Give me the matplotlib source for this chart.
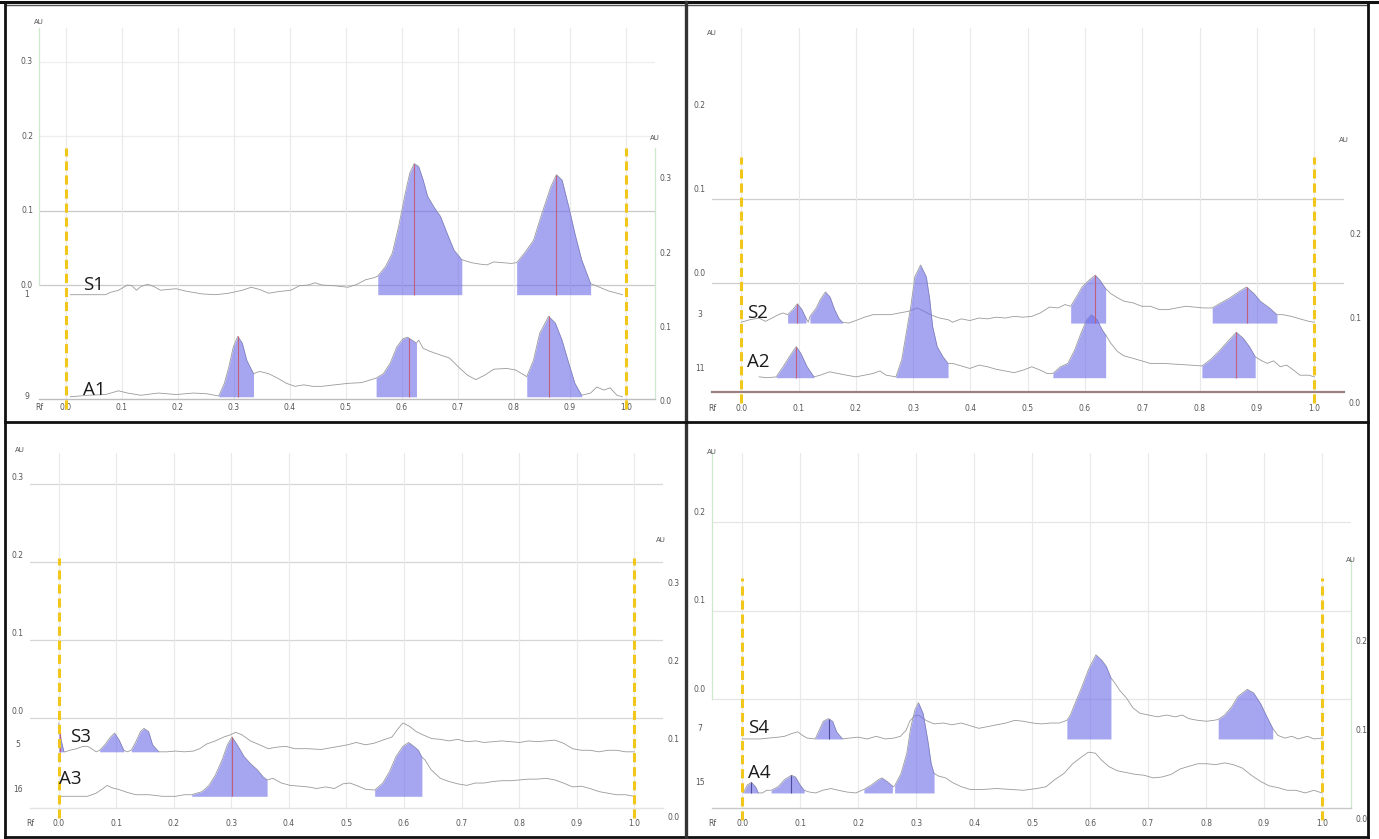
import numpy as np
import matplotlib
matplotlib.use("Agg")
import matplotlib.pyplot as plt
from matplotlib.lines import Line2D
from matplotlib.transforms import offset_copy

# Rf axis
rf_ticks = [0.0, 0.1, 0.2, 0.3, 0.4, 0.5, 0.6, 0.7, 0.8, 0.9, 1.0]
rf_labels = ["0.0", "0.1", "0.2", "0.3", "0.4", "0.5", "0.6", "0.7", "0.8", "0.9", "1.0"]

# ---- plate 1 -------------------------------------------------------------
s1_rf = [0.008, 0.071, 0.079, 0.094, 0.110, 0.118, 0.126, 0.134, 0.146, 0.157, 0.169, 0.181,
         0.197, 0.213, 0.228, 0.244, 0.268, 0.291, 0.315, 0.331, 0.346, 0.362, 0.378, 0.402,
         0.417, 0.433, 0.445, 0.457, 0.480, 0.504, 0.520, 0.535, 0.551, 0.557, 0.571, 0.583,
         0.594, 0.606, 0.614, 0.622, 0.630, 0.638, 0.646, 0.657, 0.669, 0.681, 0.693, 0.707,
         0.724, 0.740, 0.752, 0.764, 0.780, 0.795, 0.805, 0.819, 0.835, 0.850, 0.866, 0.876,
         0.886, 0.898, 0.909, 0.921, 0.937, 0.953, 0.969, 0.984, 0.994]
s1_au = [0.140, 0.140, 0.143, 0.146, 0.153, 0.152, 0.146, 0.151, 0.154, 0.151, 0.146, 0.147,
         0.148, 0.145, 0.143, 0.141, 0.140, 0.142, 0.146, 0.150, 0.147, 0.142, 0.144, 0.146,
         0.152, 0.153, 0.156, 0.153, 0.152, 0.150, 0.154, 0.160, 0.163, 0.165, 0.178, 0.196,
         0.231, 0.276, 0.303, 0.316, 0.312, 0.294, 0.272, 0.258, 0.245, 0.222, 0.200, 0.187,
         0.183, 0.181, 0.180, 0.184, 0.183, 0.182, 0.183, 0.196, 0.213, 0.249, 0.285, 0.301,
         0.294, 0.258, 0.222, 0.187, 0.155, 0.150, 0.145, 0.142, 0.140]
s1_base = 0.140
s1_peaks = [(0.557, 0.707), (0.805, 0.937)]
s1_marks = [0.622, 0.876]

a1_rf = [0.008, 0.024, 0.039, 0.071, 0.094, 0.110, 0.134, 0.165, 0.197, 0.228, 0.252, 0.273,
         0.283, 0.291, 0.299, 0.307, 0.315, 0.323, 0.335, 0.346, 0.362, 0.378, 0.394, 0.409,
         0.425, 0.441, 0.457, 0.480, 0.504, 0.528, 0.554, 0.567, 0.579, 0.591, 0.602, 0.610,
         0.618, 0.626, 0.630, 0.638, 0.650, 0.669, 0.685, 0.701, 0.717, 0.732, 0.748, 0.764,
         0.787, 0.803, 0.823, 0.835, 0.846, 0.862, 0.874, 0.886, 0.898, 0.909, 0.921, 0.937,
         0.948, 0.961, 0.972, 0.984, 0.994]
a1_au = [0.003, 0.004, 0.005, 0.006, 0.011, 0.008, 0.005, 0.008, 0.006, 0.008, 0.007, 0.004,
         0.021, 0.043, 0.070, 0.084, 0.075, 0.052, 0.034, 0.037, 0.034, 0.028, 0.021, 0.017,
         0.019, 0.017, 0.017, 0.019, 0.021, 0.022, 0.028, 0.034, 0.048, 0.070, 0.081, 0.083,
         0.079, 0.075, 0.079, 0.068, 0.064, 0.059, 0.055, 0.043, 0.032, 0.026, 0.032, 0.040,
         0.041, 0.039, 0.030, 0.052, 0.088, 0.111, 0.102, 0.079, 0.048, 0.021, 0.005, 0.008,
         0.016, 0.012, 0.015, 0.005, 0.003]
a1_base = 0.003
a1_peaks = [(0.273, 0.335), (0.554, 0.626), (0.823, 0.921)]
a1_marks = [0.307, 0.612, 0.862]

# ---- plate 2 -------------------------------------------------------------
s2_rf = [0.000, 0.015, 0.031, 0.042, 0.054, 0.065, 0.073, 0.081, 0.090, 0.098, 0.106, 0.113,
         0.117, 0.120, 0.131, 0.138, 0.147, 0.155, 0.163, 0.171, 0.177, 0.188, 0.200, 0.215,
         0.230, 0.246, 0.261, 0.276, 0.292, 0.300, 0.307, 0.319, 0.330, 0.346, 0.361, 0.369,
         0.384, 0.399, 0.415, 0.430, 0.445, 0.461, 0.476, 0.492, 0.507, 0.522, 0.538, 0.553,
         0.565, 0.575, 0.584, 0.595, 0.607, 0.618, 0.626, 0.636, 0.645, 0.657, 0.668, 0.684,
         0.699, 0.714, 0.730, 0.745, 0.760, 0.776, 0.791, 0.806, 0.822, 0.837, 0.853, 0.868,
         0.882, 0.895, 0.906, 0.922, 0.935, 0.945, 0.960, 0.975, 0.991, 1.000]
s2_au = [0.083, 0.086, 0.088, 0.084, 0.088, 0.092, 0.094, 0.092, 0.098, 0.105, 0.098, 0.088,
         0.083, 0.090, 0.100, 0.110, 0.119, 0.113, 0.098, 0.087, 0.083, 0.082, 0.085, 0.089,
         0.092, 0.092, 0.092, 0.094, 0.096, 0.098, 0.100, 0.096, 0.092, 0.088, 0.086, 0.083,
         0.087, 0.085, 0.088, 0.087, 0.089, 0.088, 0.090, 0.089, 0.090, 0.094, 0.101, 0.100,
         0.104, 0.102, 0.112, 0.125, 0.133, 0.139, 0.133, 0.123, 0.117, 0.112, 0.108, 0.106,
         0.102, 0.102, 0.098, 0.098, 0.100, 0.102, 0.101, 0.100, 0.100, 0.106, 0.112, 0.119,
         0.125, 0.117, 0.108, 0.100, 0.092, 0.092, 0.090, 0.087, 0.084, 0.083]
s2_base = 0.082
s2_peaks = [(0.081, 0.113), (0.120, 0.177), (0.575, 0.636), (0.822, 0.935)]
s2_marks = [0.098, 0.618, 0.882]

a2_rf = [0.031, 0.046, 0.061, 0.073, 0.084, 0.096, 0.104, 0.115, 0.127, 0.138, 0.154, 0.169,
         0.184, 0.200, 0.215, 0.230, 0.242, 0.253, 0.270, 0.280, 0.288, 0.296, 0.303, 0.313,
         0.323, 0.329, 0.334, 0.342, 0.352, 0.361, 0.369, 0.384, 0.399, 0.415, 0.430, 0.445,
         0.461, 0.476, 0.492, 0.507, 0.522, 0.534, 0.544, 0.557, 0.570, 0.582, 0.593, 0.603,
         0.611, 0.621, 0.630, 0.636, 0.645, 0.657, 0.668, 0.684, 0.699, 0.714, 0.737, 0.760,
         0.783, 0.804, 0.818, 0.833, 0.849, 0.864, 0.876, 0.887, 0.897, 0.906, 0.918, 0.929,
         0.941, 0.952, 0.964, 0.975, 0.991, 1.000]
a2_au = [0.018, 0.017, 0.018, 0.030, 0.042, 0.054, 0.046, 0.030, 0.018, 0.020, 0.024, 0.022,
         0.020, 0.018, 0.020, 0.022, 0.025, 0.020, 0.018, 0.038, 0.070, 0.102, 0.137, 0.151,
         0.137, 0.110, 0.078, 0.054, 0.042, 0.034, 0.034, 0.031, 0.028, 0.032, 0.030, 0.027,
         0.025, 0.023, 0.026, 0.030, 0.026, 0.022, 0.022, 0.030, 0.034, 0.050, 0.070, 0.086,
         0.092, 0.086, 0.074, 0.068, 0.058, 0.048, 0.043, 0.040, 0.037, 0.034, 0.034, 0.033,
         0.032, 0.031, 0.038, 0.048, 0.060, 0.071, 0.064, 0.054, 0.042, 0.038, 0.034, 0.037,
         0.030, 0.032, 0.026, 0.020, 0.020, 0.018]
a2_base = 0.017
a2_peaks = [(0.061, 0.127), (0.270, 0.361), (0.544, 0.636), (0.804, 0.897)]
a2_marks = [0.096, 0.864]

# ---- plate 3 -------------------------------------------------------------
s3_rf = [0.000, 0.004, 0.009, 0.011, 0.019, 0.031, 0.042, 0.050, 0.057, 0.065, 0.071, 0.080,
         0.090, 0.097, 0.105, 0.113, 0.119, 0.126, 0.134, 0.142, 0.148, 0.156, 0.163, 0.174,
         0.188, 0.203, 0.218, 0.234, 0.245, 0.257, 0.272, 0.287, 0.299, 0.307, 0.318, 0.333,
         0.349, 0.364, 0.379, 0.395, 0.410, 0.433, 0.456, 0.479, 0.502, 0.517, 0.533, 0.548,
         0.563, 0.579, 0.590, 0.598, 0.609, 0.621, 0.632, 0.648, 0.663, 0.678, 0.693, 0.709,
         0.724, 0.739, 0.755, 0.770, 0.785, 0.801, 0.816, 0.831, 0.847, 0.862, 0.877, 0.893,
         0.908, 0.923, 0.939, 0.954, 0.969, 0.985, 1.000]
s3_au = [0.109, 0.087, 0.072, 0.072, 0.074, 0.076, 0.079, 0.079, 0.076, 0.072, 0.074, 0.081,
         0.091, 0.096, 0.087, 0.074, 0.072, 0.074, 0.085, 0.098, 0.102, 0.098, 0.081, 0.072,
         0.072, 0.073, 0.072, 0.073, 0.076, 0.082, 0.086, 0.091, 0.094, 0.097, 0.094, 0.086,
         0.081, 0.076, 0.078, 0.079, 0.076, 0.076, 0.075, 0.078, 0.081, 0.084, 0.081, 0.083,
         0.087, 0.091, 0.102, 0.109, 0.105, 0.098, 0.094, 0.089, 0.088, 0.086, 0.088, 0.085,
         0.086, 0.084, 0.085, 0.086, 0.085, 0.084, 0.086, 0.085, 0.086, 0.087, 0.083, 0.076,
         0.074, 0.074, 0.072, 0.074, 0.074, 0.072, 0.072]
s3_base = 0.072
s3_peaks = [(0.000, 0.009), (0.071, 0.113), (0.126, 0.174)]
s3_marks = [0.002]

a3_rf = [0.000, 0.019, 0.034, 0.050, 0.065, 0.077, 0.084, 0.092, 0.103, 0.119, 0.134, 0.157,
         0.180, 0.203, 0.218, 0.231, 0.249, 0.261, 0.272, 0.284, 0.293, 0.301, 0.310, 0.322,
         0.333, 0.345, 0.355, 0.362, 0.372, 0.387, 0.402, 0.418, 0.433, 0.448, 0.464, 0.479,
         0.494, 0.506, 0.517, 0.533, 0.549, 0.563, 0.575, 0.586, 0.598, 0.608, 0.617, 0.625,
         0.631, 0.636, 0.647, 0.663, 0.678, 0.693, 0.709, 0.724, 0.739, 0.755, 0.770, 0.785,
         0.801, 0.816, 0.831, 0.847, 0.862, 0.877, 0.893, 0.908, 0.923, 0.939, 0.954, 0.969,
         0.985, 1.000]
a3_au = [0.015, 0.015, 0.015, 0.015, 0.019, 0.025, 0.029, 0.026, 0.024, 0.020, 0.017, 0.017,
         0.015, 0.015, 0.017, 0.017, 0.021, 0.029, 0.042, 0.062, 0.081, 0.091, 0.081, 0.066,
         0.057, 0.049, 0.040, 0.036, 0.038, 0.032, 0.029, 0.028, 0.027, 0.025, 0.027, 0.025,
         0.031, 0.032, 0.029, 0.024, 0.023, 0.032, 0.047, 0.066, 0.079, 0.084, 0.079, 0.074,
         0.065, 0.062, 0.049, 0.038, 0.034, 0.031, 0.029, 0.032, 0.032, 0.034, 0.035, 0.035,
         0.036, 0.037, 0.037, 0.038, 0.036, 0.032, 0.027, 0.028, 0.025, 0.021, 0.019, 0.017,
         0.017, 0.015]
a3_base = 0.015
a3_peaks = [(0.231, 0.362), (0.549, 0.631)]
a3_marks = [0.301]

# ---- plate 4 -------------------------------------------------------------
s4_rf = [0.000, 0.015, 0.031, 0.046, 0.062, 0.073, 0.085, 0.096, 0.104, 0.112, 0.126, 0.133,
         0.140, 0.149, 0.156, 0.163, 0.173, 0.185, 0.200, 0.216, 0.231, 0.247, 0.262, 0.273,
         0.283, 0.289, 0.297, 0.304, 0.312, 0.320, 0.331, 0.347, 0.362, 0.378, 0.393, 0.408,
         0.424, 0.439, 0.455, 0.470, 0.485, 0.501, 0.516, 0.532, 0.547, 0.560, 0.566, 0.574,
         0.586, 0.597, 0.610, 0.620, 0.628, 0.636, 0.643, 0.651, 0.663, 0.674, 0.686, 0.701,
         0.716, 0.732, 0.747, 0.759, 0.770, 0.786, 0.801, 0.813, 0.821, 0.832, 0.844, 0.855,
         0.871, 0.882, 0.894, 0.905, 0.915, 0.924, 0.936, 0.948, 0.959, 0.975, 0.986, 1.000]
s4_au = [0.078, 0.078, 0.078, 0.079, 0.080, 0.081, 0.084, 0.086, 0.082, 0.079, 0.078, 0.088,
         0.098, 0.101, 0.098, 0.086, 0.078, 0.079, 0.080, 0.078, 0.081, 0.078, 0.079, 0.081,
         0.088, 0.098, 0.104, 0.105, 0.101, 0.098, 0.095, 0.096, 0.094, 0.096, 0.093, 0.090,
         0.092, 0.094, 0.096, 0.099, 0.098, 0.096, 0.095, 0.096, 0.096, 0.099, 0.105, 0.118,
         0.137, 0.156, 0.173, 0.167, 0.160, 0.147, 0.141, 0.133, 0.124, 0.113, 0.107, 0.105,
         0.103, 0.105, 0.103, 0.105, 0.101, 0.099, 0.098, 0.099, 0.100, 0.105, 0.114, 0.126,
         0.134, 0.130, 0.118, 0.103, 0.090, 0.082, 0.079, 0.081, 0.078, 0.081, 0.078, 0.079]
s4_base = 0.078
s4_peaks = [(0.126, 0.173), (0.560, 0.636), (0.821, 0.915)]
s4_marks = [0.149]

a4_rf = [0.002, 0.009, 0.016, 0.023, 0.028, 0.035, 0.042, 0.050, 0.062, 0.073, 0.085, 0.092,
         0.100, 0.107, 0.116, 0.127, 0.139, 0.153, 0.166, 0.181, 0.196, 0.210, 0.223, 0.235,
         0.241, 0.250, 0.259, 0.260, 0.263, 0.274, 0.284, 0.291, 0.298, 0.304, 0.312, 0.320,
         0.326, 0.331, 0.339, 0.351, 0.362, 0.378, 0.393, 0.416, 0.439, 0.462, 0.485, 0.508,
         0.524, 0.539, 0.555, 0.570, 0.586, 0.597, 0.609, 0.620, 0.632, 0.647, 0.663, 0.678,
         0.693, 0.709, 0.724, 0.740, 0.755, 0.770, 0.786, 0.801, 0.817, 0.832, 0.847, 0.863,
         0.878, 0.894, 0.909, 0.924, 0.940, 0.955, 0.971, 0.986, 1.000]
a4_au = [0.017, 0.026, 0.029, 0.024, 0.017, 0.017, 0.020, 0.020, 0.024, 0.032, 0.037, 0.035,
         0.026, 0.020, 0.018, 0.017, 0.020, 0.022, 0.020, 0.018, 0.017, 0.021, 0.026, 0.032,
         0.034, 0.030, 0.025, 0.024, 0.025, 0.039, 0.062, 0.092, 0.111, 0.119, 0.107, 0.077,
         0.050, 0.039, 0.036, 0.034, 0.029, 0.024, 0.021, 0.021, 0.022, 0.021, 0.020, 0.022,
         0.024, 0.032, 0.039, 0.050, 0.058, 0.063, 0.062, 0.054, 0.047, 0.042, 0.040, 0.038,
         0.037, 0.034, 0.035, 0.038, 0.044, 0.047, 0.050, 0.050, 0.049, 0.051, 0.049, 0.045,
         0.037, 0.030, 0.025, 0.023, 0.020, 0.020, 0.017, 0.020, 0.017]
a4_base = 0.017
a4_peaks = [(0.002, 0.028), (0.050, 0.107), (0.210, 0.259), (0.263, 0.331)]
a4_marks = [0.016, 0.085]

# AU scales printed on each plate (left scale is shifted by the upper track offset)
left_au_1, left_au_2, left_au_3, left_au_4 = ([0.0, 0.1, 0.2, 0.3], [0.0, 0.1, 0.2],
                                              [0.0, 0.1, 0.2, 0.3], [0.0, 0.1, 0.2])
right_au_1, right_au_2, right_au_3, right_au_4 = ([0.0, 0.1, 0.2, 0.3], [0.0, 0.1, 0.2],
                                                  [0.0, 0.1, 0.2, 0.3], [0.0, 0.1, 0.2])

W, H = 1379, 839
FILL = "#6e6ee8"
TRACE = "#9a9a9a"
YELLOW = "#f2c71c"
TICK_C = "#555555"

plates = [
    dict(box=(39, 28, 655, 399), xlim=(-0.048, 1.052), ytop=0.498,
         left=left_au_1, left_off=0.153, right=right_au_1,
         grid=[("#c9c9c9", "#c9c9c9", "#eeeeee", "#eeeeee")],
         bottom_c="#bdbdbd", bottom_lw=1.0, ldy=0, rdy=-3, xdy=9,
         lspine=(0.153, 0.498), rspine=(0.0, 0.337), yellow_top=0.337,
         au_left=(39, 22), au_right=(655, 138), mark_c="#c0607a",
         tracks=[("S1", "1", s1_rf, s1_au, s1_base, s1_peaks, s1_marks, (0.030, 0.146)),
                 ("A1", "9", a1_rf, a1_au, a1_base, a1_peaks, a1_marks, (0.030, 0.006))]),
    dict(box=(712, 28, 1344, 392), xlim=(-0.051, 1.052), ytop=0.433,
         left=left_au_2, left_off=0.130, right=right_au_2,
         grid=[("#cfcfcf", "#cfcfcf", None)],
         bottom_c="#9c8080", bottom_lw=1.6, ldy=9, rdy=-11, xdy=16,
         lspine=None, rspine=None, yellow_top=0.279,
         au_left=(712, 33), au_right=(1344, 140), mark_c="#c0607a",
         tracks=[("S2", "3", s2_rf, s2_au, s2_base, s2_peaks, s2_marks, (0.010, 0.088)),
                 ("A2", "11", a2_rf, a2_au, a2_base, a2_peaks, a2_marks, (0.010, 0.030))]),
    dict(box=(30, 453, 663, 808), xlim=(-0.050, 1.050), ytop=0.455,
         left=left_au_3, left_off=0.115, right=right_au_3,
         grid=[("#d6d6d6", "#d6d6d6", "#d6d6d6", "#d6d6d6")],
         bottom_c="#e2e2e2", bottom_lw=1.0, ldy=7, rdy=-10, xdy=15,
         lspine=None, rspine=None, yellow_top=0.321,
         au_left=(20, 450), au_right=(661, 540), mark_c="#c0607a",
         tracks=[("S3", "5", s3_rf, s3_au, s3_base, s3_peaks, s3_marks, (0.019, 0.085)),
                 ("A3", "16", a3_rf, a3_au, a3_base, a3_peaks, a3_marks, (0.000, 0.031))]),
    dict(box=(712, 453, 1351, 808), xlim=(-0.052, 1.050), ytop=0.401,
         left=left_au_4, left_off=0.123, right=right_au_4,
         grid=[("#e6e6e6", "#e6e6e6", "#e6e6e6")],
         bottom_c="#c8c8c8", bottom_lw=1.0, ldy=10, rdy=-11, xdy=16,
         lspine=(0.123, 0.401), rspine=(0.0, 0.280), yellow_top=0.260,
         au_left=(712, 452), au_right=(1351, 560), mark_c="#4b4b9c",
         tracks=[("S4", "7", s4_rf, s4_au, s4_base, s4_peaks, s4_marks, (0.010, 0.085)),
                 ("A4", "15", a4_rf, a4_au, a4_base, a4_peaks, a4_marks, (0.010, 0.034))]),
]

fig = plt.figure(figsize=(W / 100, H / 100), dpi=100)
fig.patch.set_facecolor("white")


def side_text(ax, y, s, side, dy):
    # label next to the plot frame, y in data units, shifted by dy pixels
    if side == "left":
        tr = offset_copy(ax.get_yaxis_transform(), fig=fig, x=-12, y=dy, units="dots")
        ax.text(0, y, s, transform=tr, ha="center", va="center", fontsize=5.5, color=TICK_C)
    else:
        tr = offset_copy(ax.get_yaxis_transform(), fig=fig, x=11, y=dy, units="dots")
        ax.text(1, y, s, transform=tr, ha="center", va="center", fontsize=5.5, color=TICK_C)


for p in plates:
    x0, y0, x1, y1 = p["box"]
    ax = fig.add_axes([x0 / W, 1 - y1 / H, (x1 - x0) / W, (y1 - y0) / H])
    ax.set_xlim(*p["xlim"])
    ax.set_ylim(0, p["ytop"])
    ax.set_facecolor("none")

    # vertical Rf grid
    ax.set_xticks(rf_ticks)
    ax.set_yticks([])
    ax.tick_params(length=0, labelbottom=False)
    ax.grid(axis="x", color="#e9e9e9", lw=0.8)
    ax.set_axisbelow(True)

    ax.spines["top"].set_visible(False)
    ax.spines["bottom"].set_color(p["bottom_c"])
    ax.spines["bottom"].set_linewidth(p["bottom_lw"])
    for side in ("left", "right"):
        bounds = p["lspine" if side == "left" else "rspine"]
        if bounds is None:
            ax.spines[side].set_visible(False)
        else:
            ax.spines[side].set_bounds(*bounds)
            ax.spines[side].set_color("#cfe6cf")
            ax.spines[side].set_linewidth(0.9)

    # horizontal AU grid lines and both AU scales
    colors = p["grid"][0]
    for v, c in zip(p["left"], colors):
        if c is not None:
            ax.axhline(p["left_off"] + v, color=c, lw=0.9, zorder=0.5)
    for v in p["left"]:
        side_text(ax, p["left_off"] + v, f"{v:.1f}", "left", p["ldy"])
    for v in p["right"]:
        side_text(ax, v, f"{v:.1f}", "right", p["rdy"])

    # Rf labels under the plot
    tr = offset_copy(ax.get_xaxis_transform(), fig=fig, y=-p["xdy"], units="dots")
    for t, lab in zip(rf_ticks, rf_labels):
        ax.text(t, 0, lab, transform=tr, ha="center", va="center", fontsize=5.5, color=TICK_C)
    tr = offset_copy(ax.transAxes, fig=fig, y=-p["xdy"], units="dots")
    ax.text(0, 0, "Rf", transform=tr, ha="center", va="center", fontsize=5.5, color=TICK_C)

    ax_x, ax_y = p["au_left"]
    fig.text(ax_x / W, 1 - ax_y / H, "AU", ha="center", va="center", fontsize=5, color=TICK_C)
    ax_x, ax_y = p["au_right"]
    fig.text(ax_x / W, 1 - ax_y / H, "AU", ha="center", va="center", fontsize=5, color=TICK_C)

    # start / front lines
    ax.vlines([0.0, 1.0], -0.013, p["yellow_top"], colors=YELLOW, lw=2.2,
              linestyles=(0, (3.0, 1.6)), clip_on=False, zorder=5)

    for name, num, rf, au, base, peaks, marks, lab_pos in p["tracks"]:
        rf = np.asarray(rf)
        au = np.asarray(au)
        ax.plot(rf, au, color=TRACE, lw=0.6, zorder=1.8)
        for a, b in peaks:
            m = (rf >= a - 1e-9) & (rf <= b + 1e-9)
            ax.fill_between(rf[m], au[m], base, color=FILL, alpha=0.62, lw=0, zorder=2)
        for r in marks:
            ax.vlines(r, base, np.interp(r, rf, au), colors=p["mark_c"], lw=0.8, zorder=4)
        side_text(ax, base, num, "left", p["ldy"])
        ax.text(lab_pos[0], lab_pos[1], name, fontsize=13.5, family="Open Sans",
                color="#1b1b1b", ha="left", va="baseline", zorder=6)


def fig_line(xa, ya, xb, yb, lw=2.0, color="#111111"):
    fig.add_artist(Line2D([xa / W, xb / W], [1 - ya / H, 1 - yb / H], color=color, lw=lw))


# panel frames
fig_line(0, 1.5, W, 1.5, lw=2.2)
fig_line(5, 5, 1368, 5, lw=1.0, color="#555555")
fig_line(5, 2, 5, 837)
fig_line(1368, 2, 1368, 837)
fig_line(5, 837, 1368, 837)
fig_line(686, 2, 686, 837, lw=2.4, color="#333333")
fig_line(5, 422, 1368, 422)

fig.savefig("out.png", dpi=100, facecolor="white")
